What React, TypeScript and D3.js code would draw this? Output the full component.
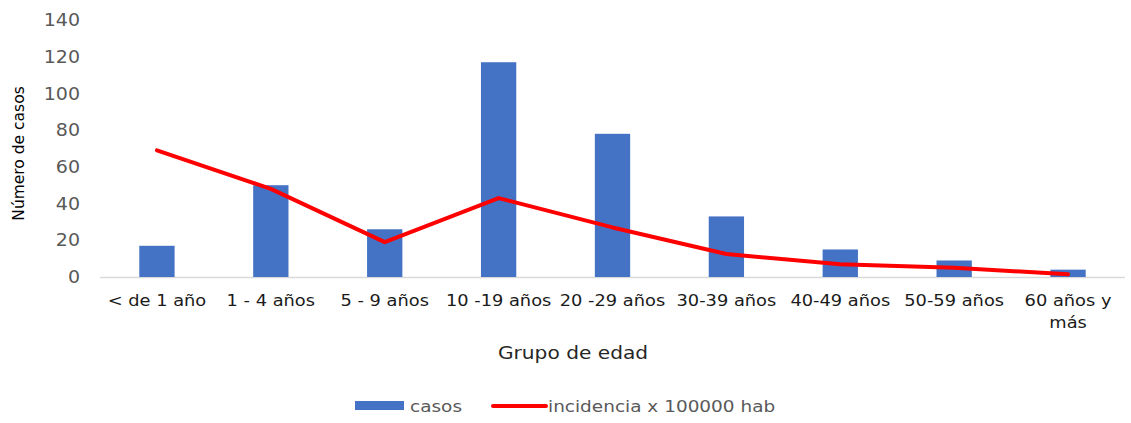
import React from 'react';
import * as d3 from 'd3';

const categories = ['< de 1 año', '1 - 4 años', '5 - 9 años', '10 -19 años', '20 -29 años', '30-39 años', '40-49 años', '50-59 años', '60 años y|más'];
const casos = [17, 50, 26, 117, 78, 33, 15, 9, 4];
const incidencia = [69, 48, 19, 43, 27, 12.5, 7, 5, 1.5];
const yTicks = [0, 20, 40, 60, 80, 100, 120, 140];

const WIDTH = 1131;
const HEIGHT = 423;
const LEFT = 100;
const RIGHT = 1125;
const TOP = 20;
const BOTTOM = 277;
const FONT = '"DejaVu Sans", sans-serif';

// text that is a little wider than the font draws it, like the original picture
const Wide = ({ x, y, sx, children, ...rest }: any) => (
  <g transform={`translate(${x},${y}) scale(${sx},1)`}>
    <text {...rest}>{children}</text>
  </g>
);

const App = () => {
  const xScale = d3.scaleBand<string>()
    .domain(categories)
    .range([LEFT, RIGHT]);
  const yScale = d3.scaleLinear()
    .domain([0, 140])
    .range([BOTTOM, TOP]);

  const barW = xScale.bandwidth() * 0.31;
  const cx = (c: string) => (xScale(c) as number) + xScale.bandwidth() / 2;

  const line = d3.line<number>()
    .x((_, i) => cx(categories[i]))
    .y(d => yScale(d));

  return (
    <svg
      width={WIDTH}
      height={HEIGHT}
      style={{ position: 'absolute', left: 0, top: 0, background: '#fff' }}
      fontFamily={FONT}
    >
      {yTicks.map(t => (
        <Wide
          key={t}
          x={80}
          y={yScale(t)}
          sx={1.12}
          textAnchor="end"
          dominantBaseline="central"
          fontSize={17}
          fill="#595959"
        >
          {t}
        </Wide>
      ))}
      <line x1={LEFT} x2={RIGHT} y1={BOTTOM + 0.5} y2={BOTTOM + 0.5} stroke="#d9d9d9" strokeWidth={1.5} />
      {categories.map((c, i) => (
        <rect
          key={c}
          x={cx(c) - barW / 2}
          y={yScale(casos[i])}
          width={barW}
          height={BOTTOM - yScale(casos[i])}
          fill="#4472c4"
        />
      ))}
      <path
        d={line(incidencia) || ''}
        fill="none"
        stroke="#ff0000"
        strokeWidth={4}
        strokeLinejoin="round"
        strokeLinecap="round"
      />
      {categories.map(c => (
        <Wide key={c} x={cx(c)} y={306} sx={1.08} textAnchor="middle" fontSize={16.5} fill="#1a1a1a">
          {c.split('|').map((part, j) => (
            <tspan key={j} x={0} dy={j === 0 ? 0 : 22}>{part}</tspan>
          ))}
        </Wide>
      ))}
      <text
        transform={`translate(24,${(87 + 220) / 2}) rotate(-90)`}
        textAnchor="middle"
        fontSize={15.5}
        fill="#000"
      >
        Número de casos
      </text>
      <Wide x={573} y={359} sx={1.12} textAnchor="middle" fontSize={18} fill="#262626">
        Grupo de edad
      </Wide>
      <rect x={355} y={401} width={49} height={9} fill="#4472c4" />
      <Wide x={410} y={412} sx={1.12} fontSize={16.5} fill="#595959">casos</Wide>
      <line x1={493} x2={546} y1={406} y2={406} stroke="#ff0000" strokeWidth={4} strokeLinecap="round" />
      <Wide x={548} y={412} sx={1.12} fontSize={16.5} fill="#595959">incidencia x 100000 hab</Wide>
    </svg>
  );
};

export default App;
